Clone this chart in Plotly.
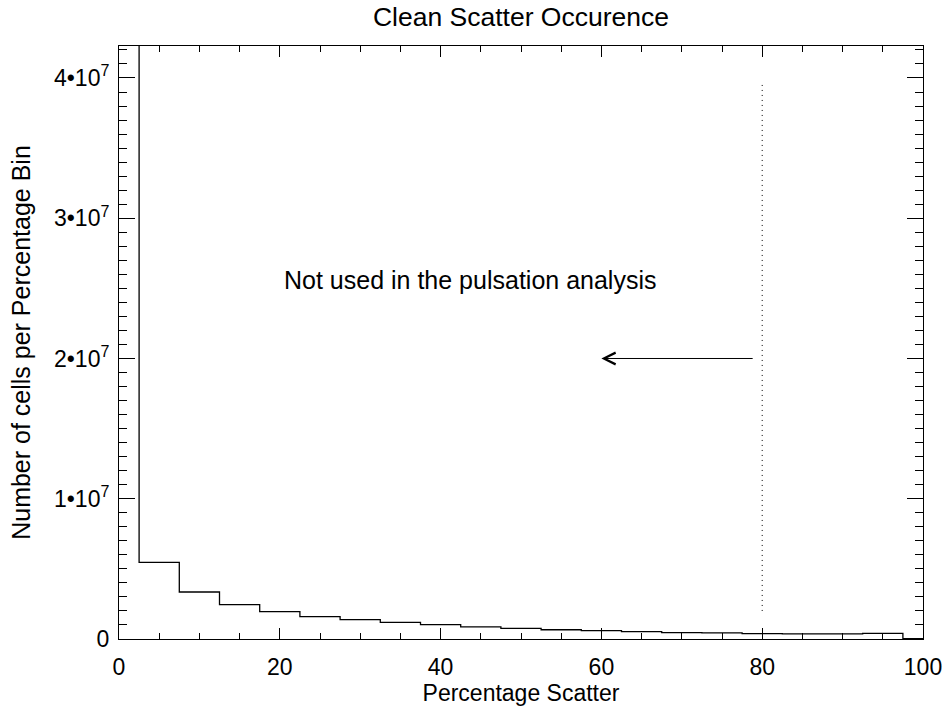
import plotly.graph_objects as go

# Histogram of percentage scatter (bin centres and counts per bin)
bin_centers = [0, 5, 10, 15, 20, 25, 30, 35, 40, 45, 50, 55, 60, 65, 70, 75, 80, 85, 90, 95, 100]
counts = [6.0e7, 5.47e6, 3.35e6, 2.45e6, 1.95e6, 1.59e6, 1.38e6, 1.18e6, 1.02e6, 0.86e6,
          0.76e6, 0.66e6, 0.59e6, 0.52e6, 0.46e6, 0.43e6, 0.38e6, 0.36e6, 0.36e6, 0.40e6, 0.03e6]

x_tick_vals = [0, 20, 40, 60, 80, 100]
y_tick_vals = [0, 1e7, 2e7, 3e7, 4e7]
y_tick_text = ["0", "1•10<sup>7</sup>", "2•10<sup>7</sup>", "3•10<sup>7</sup>", "4•10<sup>7</sup>"]

cut_x = 80
cut_y = [2.0e6, 3.97e7]
arrow_tail = 79
arrow_tip = 60
arrow_y = 2e7

FONT = "Liberation Sans, Arial, Helvetica, sans-serif"

fig = go.Figure()
fig.add_trace(go.Scatter(x=bin_centers, y=counts, mode="lines",
                         line=dict(shape="hvh", color="black", width=1.3),
                         showlegend=False, hoverinfo="skip"))
fig.add_trace(go.Scatter(x=[cut_x, cut_x], y=cut_y, mode="lines",
                         line=dict(color="black", width=1, dash="1px,4px"),
                         showlegend=False, hoverinfo="skip"))

fig.add_annotation(x=arrow_tip, y=arrow_y, ax=arrow_tail, ay=arrow_y,
                   xref="x", yref="y", axref="x", ayref="y", text="",
                   showarrow=True, arrowhead=5, arrowsize=2.3, arrowwidth=1,
                   arrowcolor="black")
fig.add_annotation(x=43.7, y=2.56e7, xref="x", yref="y",
                   text="Not used in the pulsation analysis", showarrow=False,
                   font=dict(size=25, color="black", family=FONT))

axis_common = dict(showline=True, linecolor="black", linewidth=1, mirror="ticks",
                   ticks="inside", tickcolor="black", tickwidth=1,
                   showgrid=False, zeroline=False, automargin=False,
                   tickfont=dict(size=23, color="black", family=FONT))

fig.update_xaxes(range=[0, 100], tickvals=x_tick_vals, ticklen=11,
                 minor=dict(dtick=5, ticklen=6, ticks="inside", tickcolor="black", showgrid=False),
                 title=dict(text="Percentage Scatter", font=dict(size=23, color="black", family=FONT),
                            standoff=0),
                 ticklabelstandoff=7,
                 **axis_common)
fig.update_yaxes(range=[0, 4.228e7], tickvals=y_tick_vals, ticktext=y_tick_text, ticklen=16,
                 minor=dict(dtick=1e6, ticklen=8, ticks="inside", tickcolor="black", showgrid=False),
                 title=dict(text="Number of cells per Percentage Bin",
                            font=dict(size=25, color="black", family=FONT), standoff=16),
                 ticklabelstandoff=4,
                 **axis_common)

fig.update_layout(
    width=946, height=706,
    margin=dict(l=119, r=23, t=46, b=67, autoexpand=False),
    paper_bgcolor="white", plot_bgcolor="white",
    title=dict(text="Clean Scatter Occurence", x=0.5507, xanchor="center",
               y=1 - 17 / 706, yanchor="middle",
               font=dict(size=26.5, color="black", family=FONT)),
)

fig.write_html("out.html",
               post_script="document.body.style.margin='0';document.body.style.overflow='hidden';")
